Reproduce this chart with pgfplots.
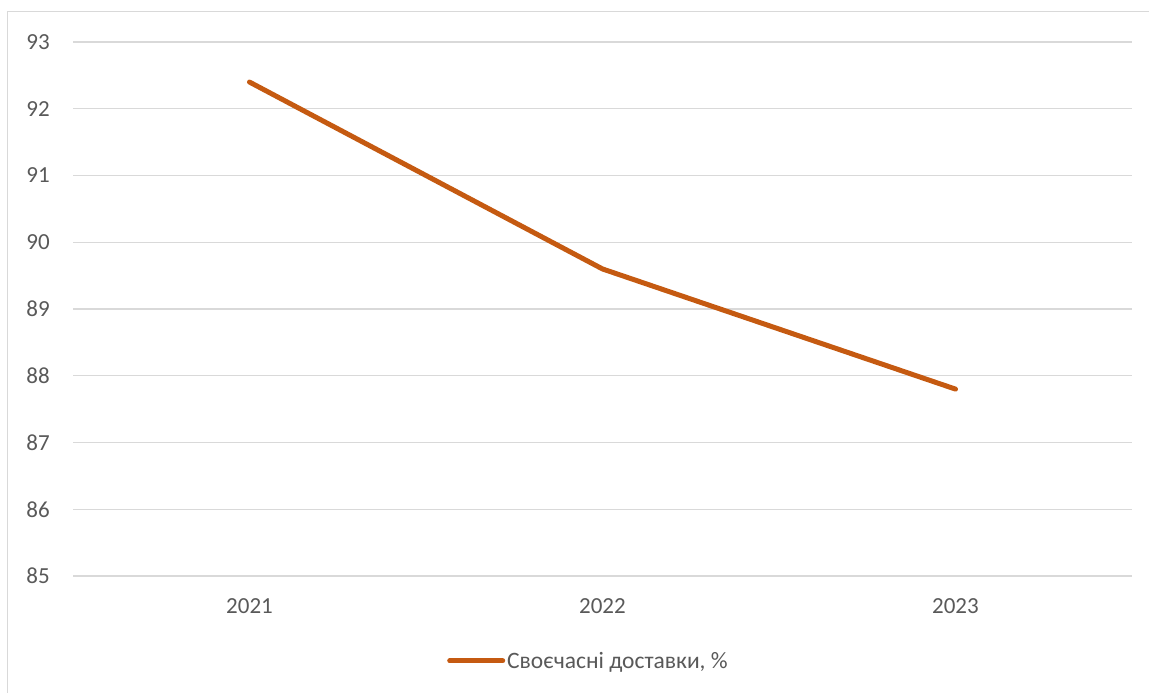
\documentclass[border=0pt]{standalone}
\usepackage{pgfplots}
\pgfplotsset{compat=1.18}
\usepackage{fontspec}
\setmainfont{Carlito}
\definecolor{gridc}{HTML}{D9D9D9}
\definecolor{txt}{HTML}{595959}
\definecolor{ser}{HTML}{C55A11}
\begin{document}
\begin{tikzpicture}
\useasboundingbox (-73bp,-117bp) rectangle (1076bp,576bp);
\draw[gridc, line width=1bp] (-65bp,-130bp) -- (-65bp,564bp) -- (1090bp,564bp);
\begin{axis}[
  at={(0,0)}, anchor=south west,
  scale only axis, width=1059bp, height=534bp,
  xmin=-0.5, xmax=2.5, ymin=85, ymax=93,
  xtick={0,1,2}, xticklabels={2021,2022,2023},
  ytick={85,86,...,93},
  axis line style={draw=none},
  xmajorgrids=false, ymajorgrids=true,
  major grid style={draw=gridc, line width=1.2bp},
  major tick length=0pt, tick style={draw=none},
  font=\fontsize{23bp}{27bp}\selectfont,
  tick label style={text=txt, inner sep=0pt},
  /pgf/number format/assume math mode=true,
  yticklabel style={anchor=east, xshift=-23bp},
  xticklabel style={anchor=north, yshift=-22bp},
  legend style={at={(rel axis cs:0.3532,-0.159)}, anchor=west, draw=none, inner sep=0pt, text=txt, font=\fontsize{23.5bp}{27bp}\selectfont, cells={anchor=west}},
  legend image code/.code={\draw[line width=5bp, line cap=round, ser] (0bp,0bp) -- (53bp,0bp);},
]
\addplot[ser, line width=5bp, line cap=round, line join=round] coordinates {(0,92.4) (1,89.6) (2,87.8)};
\addlegendentry{Своєчасні доставки, \%}
\end{axis}
\end{tikzpicture}
\end{document}
